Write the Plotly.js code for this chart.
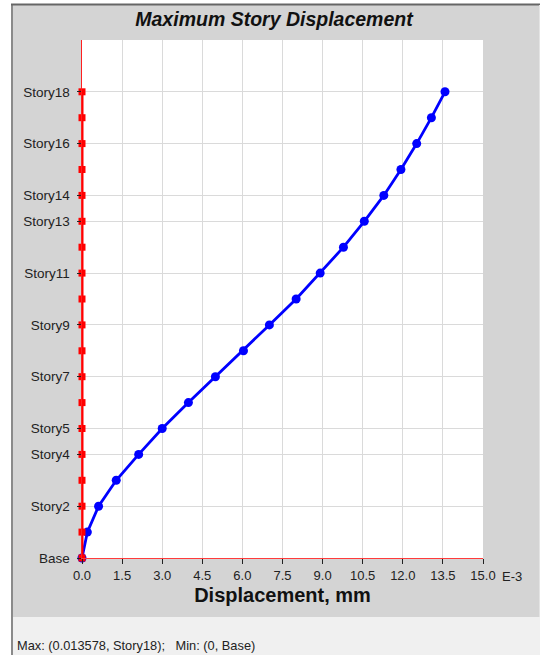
<!DOCTYPE html>
<html>
<head>
<meta charset="utf-8">
<script src="https://cdn.plot.ly/plotly-3.0.1.min.js"></script>
<style>html,body{margin:0;padding:0;background:#fff;}#chart{width:540px;height:655px;}</style>
</head>
<body>
<div id="chart"></div>
<script>
// Story names from bottom to top
const stories = ['Base','Story1','Story2','Story3','Story4','Story5','Story6','Story7','Story8','Story9',
  'Story10','Story11','Story12','Story13','Story14','Story15','Story16','Story17','Story18'];
// Maximum story displacement, mm (blue series)
const dispBlue = [0, 0.00020, 0.00062, 0.00128, 0.00212, 0.00300, 0.00398, 0.00499, 0.00604, 0.00701,
  0.00801, 0.00891, 0.00978, 0.01056, 0.01129, 0.01193, 0.01252, 0.01307, 0.013578];
// Second series (red), mm
const dispRed = [0, 0, 0, 0, 0, 0, 0, 0, 0, 0, 0, 0, 0, 0, 0, 0, 0, 0, 0];
// Labelled stories on the vertical axis
const yTickStories = ['Base','Story2','Story4','Story5','Story7','Story9','Story11','Story13','Story14','Story16','Story18'];
// Horizontal axis tick labels (units of E-3 mm)
const xTickLabels = ['0.0','1.5','3.0','4.5','6.0','7.5','9.0','10.5','12.0','13.5','15.0'];
const xTickStep = 0.0015;

const storyIndex = stories.map((s, i) => i);
const W = 540, H = 655;
const L = 82, R = 57, T = 40, B = 97;
const pw = W - L - R, ph = H - T - B;
const px = v => (v - L) / pw;           // pixel -> paper x
const py = v => (H - B - v) / ph;       // pixel -> paper y

const font = 'Liberation Sans, Arial, sans-serif';

const traces = [
  {
    x: dispBlue, y: storyIndex, type: 'scatter', mode: 'lines+markers',
    line: {color: '#0000ff', width: 2.8},
    marker: {color: '#0000ff', size: 9, symbol: 'circle'},
    cliponaxis: false, hoverinfo: 'x+y'
  },
  {
    x: dispRed, y: storyIndex, type: 'scatter', mode: 'lines+markers',
    line: {color: '#ff0000', width: 3},
    marker: {color: '#ff0000', size: 7, symbol: 'square'},
    cliponaxis: false, hoverinfo: 'x+y'
  }
];

const layout = {
  width: W, height: H,
  margin: {l: L, r: R, t: T, b: B, pad: 0},
  paper_bgcolor: '#ffffff',
  plot_bgcolor: '#ffffff',
  showlegend: false,
  title: {
    text: '<b><i>Maximum Story Displacement</i></b>',
    font: {family: font, size: 19.5, color: '#111'},
    xref: 'paper', x: px(274), xanchor: 'center',
    yref: 'container', y: 1 - 19 / H, yanchor: 'middle'
  },
  xaxis: {
    range: [0, 0.015],
    tickmode: 'array',
    tickvals: xTickLabels.map((t, i) => i * xTickStep),
    ticktext: xTickLabels,
    showgrid: true, gridcolor: '#dadada', gridwidth: 1,
    zeroline: false,
    showline: true, linecolor: '#ff3b3b', linewidth: 1,
    ticks: 'outside', ticklen: 5, tickcolor: '#222', tickwidth: 1,
    tickfont: {family: font, size: 13, color: '#222'},
    title: {text: '<b>Displacement, mm</b>', font: {family: font, size: 20, color: '#111'}, standoff: 6},
    fixedrange: true
  },
  yaxis: {
    range: [0, 20],
    tickmode: 'array',
    tickvals: yTickStories.map(s => stories.indexOf(s)),
    ticktext: yTickStories,
    showgrid: true, gridcolor: '#dadada', gridwidth: 1,
    zeroline: false,
    showline: true, linecolor: '#ff2020', linewidth: 1.5,
    ticks: 'outside', ticklen: 4, tickcolor: '#222', tickwidth: 1,
    ticklabelstandoff: 4,
    tickfont: {family: font, size: 13.5, color: '#222'},
    fixedrange: true
  },
  shapes: [
    {type: 'rect', xref: 'paper', yref: 'paper', layer: 'below',
     x0: px(12), x1: px(540), y0: py(617), y1: py(5),
     fillcolor: '#d4d4d4', line: {width: 0}},
    {type: 'rect', xref: 'paper', yref: 'paper', layer: 'below',
     x0: 0, x1: 1, y0: 0, y1: 1,
     fillcolor: '#ffffff', line: {width: 0}},
    {type: 'rect', xref: 'paper', yref: 'paper', layer: 'below',
     x0: px(12), x1: px(540), y0: py(655), y1: py(617),
     fillcolor: '#f0f0f0', line: {width: 0}},
    {type: 'line', xref: 'paper', yref: 'paper', layer: 'below',
     x0: px(12), x1: px(12), y0: py(655), y1: py(4),
     line: {color: '#8a8a8a', width: 2}},
    {type: 'line', xref: 'paper', yref: 'paper', layer: 'below',
     x0: px(11), x1: px(540), y0: py(4.5), y1: py(4.5),
     line: {color: '#666666', width: 2}},
    {type: 'line', xref: 'paper', yref: 'paper', layer: 'below',
     x0: px(539.5), x1: px(539.5), y0: py(617), y1: py(5),
     line: {color: '#e4e4e4', width: 1}}
  ],
  annotations: [
    {text: 'E-3', xref: 'paper', yref: 'paper', x: px(500), y: py(576),
     xanchor: 'left', yanchor: 'middle', showarrow: false,
     font: {family: font, size: 13, color: '#222'}},
    {text: 'Max: (0.013578, Story18);   Min: (0, Base)', xref: 'paper', yref: 'paper',
     x: px(15), y: py(645), xanchor: 'left', yanchor: 'middle', showarrow: false,
     font: {family: font, size: 12.8, color: '#222'}}
  ]
};

Plotly.newPlot('chart', traces, layout, {displayModeBar: false, staticPlot: true});
</script>
</body>
</html>
